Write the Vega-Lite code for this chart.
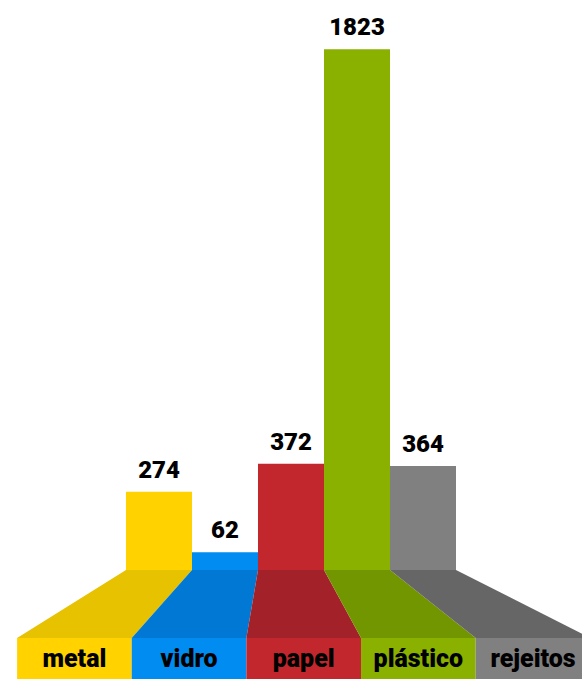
{
  "$schema": "https://vega.github.io/schema/vega-lite/v6.json",
  "width": 582,
  "height": 679,
  "autosize": {"type": "fit", "contains": "padding"},
  "padding": 0,
  "background": "white",
  "config": {"view": {"stroke": null}},
  "data": {"values": [
    {"cat": "metal", "value": 274, "slot": 0},
    {"cat": "vidro", "value": 62, "slot": 1},
    {"cat": "papel", "value": 372, "slot": 2},
    {"cat": "plástico", "value": 1823, "slot": 3},
    {"cat": "rejeitos", "value": 364, "slot": 4}
  ]},
  "transform": [
    {"calculate": "datum.slot", "as": "lo"},
    {"calculate": "datum.slot + 1", "as": "hi"},
    {"calculate": "datum.slot + 0.5", "as": "mid"},
    {"calculate": "-1.65 + 1.737 * datum.slot", "as": "blo"},
    {"calculate": "datum.blo + 1.737", "as": "bhi"},
    {"calculate": "datum.blo + 0.8685", "as": "bmid"}
  ],
  "resolve": {"scale": {"color": "independent"}},
  "layer": [
    {
      "transform": [
        {"calculate": "[0, 1]", "as": "edge"},
        {"flatten": ["edge"]},
        {"calculate": "datum.edge == 0 ? datum.lo : datum.blo", "as": "fx"},
        {"calculate": "datum.edge == 0 ? datum.hi : datum.bhi", "as": "fx2"},
        {"calculate": "datum.edge == 0 ? 0 : -238", "as": "fy"}
      ],
      "mark": {"type": "area", "orient": "horizontal", "clip": true},
      "encoding": {
        "y": {"field": "fy", "type": "quantitative", "scale": {"domain": [-381.5, 1995], "nice": false, "zero": false}, "axis": null},
        "x": {"field": "fx", "type": "quantitative", "scale": {"domain": [-1.909, 6.909], "nice": false, "zero": false}, "axis": null},
        "x2": {"field": "fx2"},
        "color": {"field": "cat", "type": "nominal", "sort": null, "legend": null,
          "scale": {"domain": ["metal", "vidro", "papel", "plástico", "rejeitos"], "range": ["#E6C200", "#0078D4", "#A32128", "#729600", "#666666"]}}
      }
    },
    {
      "mark": {"type": "rect"},
      "encoding": {
        "y": {"field": "value", "type": "quantitative", "scale": {"domain": [-381.5, 1995], "nice": false, "zero": false}, "axis": null},
        "y2": {"datum": 0},
        "x": {"field": "lo", "type": "quantitative", "scale": {"domain": [-1.909, 6.909], "nice": false, "zero": false}, "axis": null},
        "x2": {"field": "hi"},
        "color": {"field": "cat", "type": "nominal", "sort": null, "legend": null,
          "scale": {"domain": ["metal", "vidro", "papel", "plástico", "rejeitos"], "range": ["#FFD200", "#008CF0", "#C1272D", "#8AB000", "#808080"]}}
      }
    },
    {
      "mark": {"type": "rect", "clip": true},
      "encoding": {
        "y": {"datum": -238, "type": "quantitative", "scale": {"domain": [-381.5, 1995], "nice": false, "zero": false}, "axis": null},
        "y2": {"datum": -400},
        "x": {"field": "blo", "type": "quantitative", "scale": {"domain": [-1.909, 6.909], "nice": false, "zero": false}, "axis": null},
        "x2": {"field": "bhi"},
        "color": {"field": "cat", "type": "nominal", "sort": null, "legend": null,
          "scale": {"domain": ["metal", "vidro", "papel", "plástico", "rejeitos"], "range": ["#FFD200", "#008CF0", "#C1272D", "#8AB000", "#808080"]}}
      }
    },
    {
      "mark": {"type": "text", "dy": -14, "baseline": "alphabetic", "align": "center", "font": "Roboto", "fontWeight": 900, "fontSize": 24, "color": "#000000"},
      "encoding": {
        "y": {"field": "value", "type": "quantitative", "scale": {"domain": [-381.5, 1995], "nice": false, "zero": false}, "axis": null},
        "x": {"field": "mid", "type": "quantitative", "scale": {"domain": [-1.909, 6.909], "nice": false, "zero": false}, "axis": null},
        "text": {"field": "value", "type": "quantitative", "format": "d"}
      }
    },
    {
      "mark": {"type": "text", "baseline": "alphabetic", "align": "center", "font": "Roboto", "fontWeight": 900, "fontSize": 25, "color": "#000000"},
      "encoding": {
        "y": {"datum": -339.5, "type": "quantitative", "scale": {"domain": [-381.5, 1995], "nice": false, "zero": false}, "axis": null},
        "x": {"field": "bmid", "type": "quantitative", "scale": {"domain": [-1.909, 6.909], "nice": false, "zero": false}, "axis": null},
        "text": {"field": "cat", "type": "nominal"}
      }
    }
  ]
}
